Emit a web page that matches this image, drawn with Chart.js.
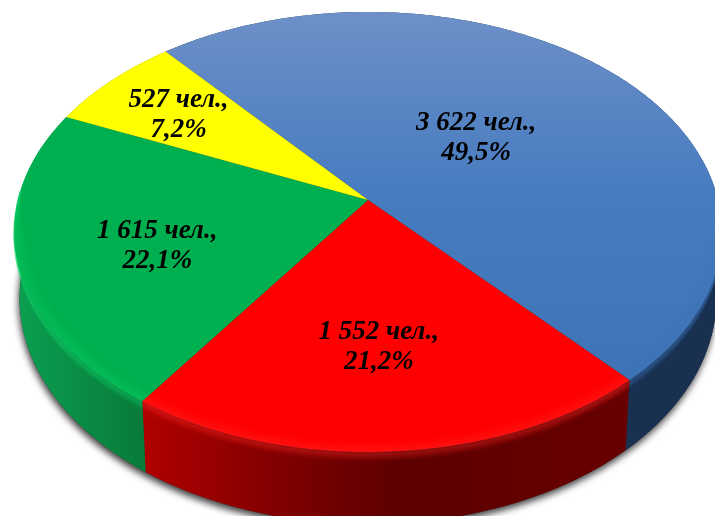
<!DOCTYPE html>
<html>
<head>
<meta charset="utf-8">
<style>
  html, body { margin: 0; padding: 0; background: #fff; overflow: hidden; }
  canvas { display: block; }
</style>
<script src="https://cdn.jsdelivr.net/npm/chart.js@4/dist/chart.umd.min.js"></script>
</head>
<body>
<canvas id="myChart" width="715" height="516"></canvas>
<script>
var people = [3622, 1552, 1615, 527];
var peopleLabels = ['3 622 чел.,', '1 552 чел.,', '1 615 чел.,', '527 чел.,'];
var shareLabels = ['49,5%', '21,2%', '22,1%', '7,2%'];
var faceColors = ['#4a7cc0', '#ff0000', '#00b050', '#ffff00'];
var rimColors = ['#3f76b8', '#ff2c2c', '#12d468', '#ffff40'];
var labelRadius = [0.44, 0.62, 0.62, 0.71];
var labelTurn = [-2, 1, -4, -1];

// tilted disc, seen in perspective
var view = { cx: 368, cy: 200, R: 350, S: 215.3, p: 0.1453, D: 65, K: 0.985 };

function project(a, r, z) {
  var u = Math.cos(a) * r, v = Math.sin(a) * r;
  var w = 1 - view.p * v;
  var k = 1 - (1 - view.K) * z;
  return {
    x: view.cx + view.R * u * k / w,
    y: view.cy + (view.S * v * k + view.D * z) / w
  };
}

function trace(ctx, a0, a1, r, z, move) {
  var steps = Math.max(2, Math.ceil(Math.abs(a1 - a0) * 60));
  for (var i = 0; i <= steps; i++) {
    var p = project(a0 + (a1 - a0) * i / steps, r, z);
    if (i === 0 && move) ctx.moveTo(p.x, p.y);
    else ctx.lineTo(p.x, p.y);
  }
}

function wallFill(ctx, index) {
  var g = ctx.createLinearGradient(0, 0, 715, 0);
  if (index === 1) {
    g.addColorStop(0.2, '#b00000');
    g.addColorStop(0.4, '#7e0000');
    g.addColorStop(0.56, '#5c0000');
    g.addColorStop(0.88, '#680000');
  } else if (index === 2) {
    g.addColorStop(0.02, '#0ba052');
    g.addColorStop(0.2, '#087a3a');
  } else if (index === 0) {
    g.addColorStop(0, '#1a3050');
    g.addColorStop(1, '#1a3050');
  } else {
    g.addColorStop(0, '#8a8a00');
    g.addColorStop(1, '#8a8a00');
  }
  return g;
}

function faceFill(ctx, index) {
  if (index !== 0) return faceColors[index];
  var g = ctx.createLinearGradient(0, 12, 0, 400);
  g.addColorStop(0, '#6d90c8');
  g.addColorStop(0.45, '#487cc0');
  g.addColorStop(1, '#3d73b5');
  return g;
}

// bevel inset fades out towards the back of the disc
function bevel(ctx, a0, a1, amount, level) {
  var steps = Math.max(2, Math.ceil(Math.abs(a1 - a0) * 60));
  var open = false;
  ctx.beginPath();
  for (var i = 0; i <= steps; i++) {
    var a = a0 + (a1 - a0) * i / steps;
    var s = Math.min(1, Math.max(0, (Math.sin(a) + 0.05) / 0.25));
    if (s <= 0) { open = false; continue; }
    var p = project(a, 1 - amount * s * level, 0);
    if (!open) ctx.moveTo(p.x, p.y);
    else ctx.lineTo(p.x, p.y);
    open = true;
  }
  ctx.stroke();
}

var disc3d = {
  id: 'disc3d',
  beforeDatasetsDraw: function(chart) {
    var ctx = chart.ctx;
    var arcs = chart.getDatasetMeta(0).data;
    var i, n;

    // drop shadow under the wall
    ctx.save();
    ctx.shadowColor = 'rgba(0,0,0,0.75)';
    ctx.shadowBlur = 7;
    ctx.shadowOffsetX = -1;
    ctx.shadowOffsetY = 4;
    ctx.fillStyle = '#333';
    ctx.beginPath();
    trace(ctx, 0, Math.PI * 2, 1, 1, true);
    ctx.closePath();
    ctx.fill();
    ctx.restore();

    // walls
    arcs.forEach(function(arc, index) {
      var a0 = arc.startAngle, a1 = arc.endAngle;
      ctx.fillStyle = wallFill(ctx, index);
      ctx.beginPath();
      trace(ctx, a0, a1, 1, 0, true);
      trace(ctx, a1, a0, 1, 1, false);
      ctx.closePath();
      ctx.fill();
      ctx.lineWidth = 2;
      ctx.strokeStyle = rimColors[index];
      for (n = 0; n < 10; n++) {
        ctx.globalAlpha = 0.2 * (1 - n / 10);
        ctx.beginPath();
        trace(ctx, a0, a1, 1, 0.02 + n * 0.012, true);
        ctx.stroke();
      }
      ctx.globalAlpha = 1;
    });

    // top faces
    arcs.forEach(function(arc, index) {
      var a0 = arc.startAngle, a1 = arc.endAngle;
      var c = project(0, 0, 0);
      ctx.fillStyle = faceFill(ctx, index);
      ctx.beginPath();
      ctx.moveTo(c.x, c.y);
      trace(ctx, a0, a1, 1, 0, false);
      ctx.closePath();
      ctx.fill();
    });

    // soft highlight along the front rim
    arcs.forEach(function(arc, index) {
      ctx.strokeStyle = rimColors[index];
      ctx.lineWidth = 1.6;
      for (n = 0; n < 10; n++) {
        ctx.globalAlpha = 0.3 * (1 - n / 10);
        bevel(ctx, arc.startAngle, arc.endAngle, 0.04, n / 10);
      }
      ctx.globalAlpha = 1;
    });

    // texts
    ctx.fillStyle = '#000';
    ctx.font = 'italic bold 27px "Liberation Serif"';
    ctx.textAlign = 'center';
    ctx.textBaseline = 'middle';
    for (i = 0; i < arcs.length; i++) {
      var mid = (arcs[i].startAngle + arcs[i].endAngle) / 2 + labelTurn[i] * Math.PI / 180;
      var p = project(mid, labelRadius[i], 0);
      ctx.fillText(peopleLabels[i], p.x, p.y - 15);
      ctx.fillText(shareLabels[i], p.x, p.y + 15);
    }
    return false;
  }
};

var myChart = new Chart(document.getElementById('myChart').getContext('2d'), {
  type: 'pie',
  data: {
    labels: peopleLabels,
    datasets: [
      {
        data: people,
        backgroundColor: faceColors,
        borderWidth: 0
      }
    ]
  },
  options: {
    responsive: false,
    animation: false,
    rotation: -40,
    plugins: {
      legend: { display: false },
      tooltip: { enabled: false }
    }
  },
  plugins: [disc3d]
});
</script>
</body>
</html>
